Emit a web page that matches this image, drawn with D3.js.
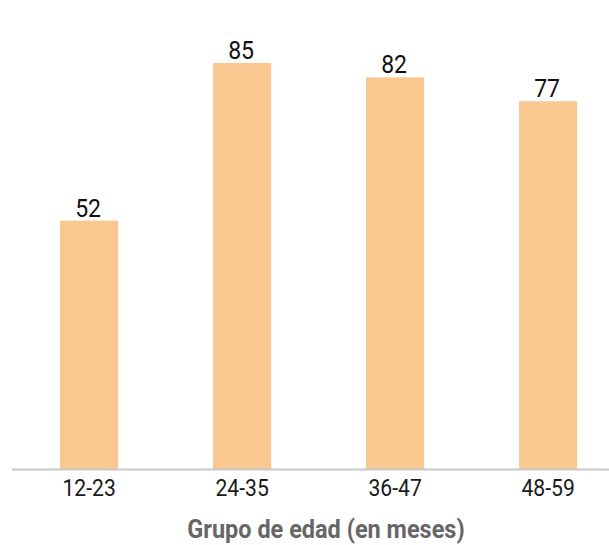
<!DOCTYPE html>
<html><head><meta charset="utf-8">
<script src="https://cdn.jsdelivr.net/npm/d3@7"></script>
<style>body{margin:0;background:#fff}svg{display:block}</style>
</head><body>
<script>
const categories = ["12-23", "24-35", "36-47", "48-59"];
const values = [52, 85, 82, 77];
const axisTitle = "Grupo de edad (en meses)";

const W = 609, H = 545;
const svg = d3.select("body").append("svg").attr("width", W).attr("height", H);
const font = "Roboto, 'Liberation Sans', sans-serif";

const x = d3.scaleBand().domain(categories).range([12.6, 624.6]).paddingInner(0.62).paddingOuter(0.31);
const y = d3.scaleLinear().domain([0, 85]).range([469, 63]);

svg.selectAll("rect.bar").data(values).join("rect")
  .attr("class", "bar")
  .attr("x", (d, i) => x(categories[i]))
  .attr("width", x.bandwidth())
  .attr("y", d => y(d))
  .attr("height", d => y(0) - y(d))
  .attr("fill", "#F9C891");

// axis
const ax = svg.append("g").attr("transform", `translate(0,${y(0)})`)
  .call(d3.axisBottom(x).tickSize(0).tickPadding(0));
ax.select(".domain").remove();
ax.selectAll(".tick text").remove();
svg.append("line").attr("x1", 12).attr("x2", W).attr("y1", y(0) + 0.5).attr("y2", y(0) + 0.5)
  .attr("stroke", "#c8c8c8").attr("stroke-width", 2);

ax.selectAll(".tick").append("g")
  .attr("transform", `translate(0,27) scale(0.88,1)`)
  .append("text")
  .attr("text-anchor", "middle")
  .attr("font-family", font).attr("font-size", 24).attr("fill", "#1a1a1a")
  .text(d => d);

// value labels
svg.selectAll("g.lbl").data(values).join("g")
  .attr("class", "lbl")
  .attr("transform", (d, i) => `translate(${x(categories[i]) + x.bandwidth() / 2 - 1},${y(d) - 4}) scale(0.87,1)`)
  .append("text")
  .attr("text-anchor", "middle")
  .attr("font-family", font).attr("font-size", 26.5).attr("fill", "#111")
  .text(d => d);

svg.append("g").attr("transform", `translate(326,538) scale(0.94,1)`)
  .append("text").attr("text-anchor", "middle")
  .attr("font-family", font).attr("font-size", 25).attr("font-weight", "bold").attr("fill", "#666")
  .text(axisTitle);
</script>
</body></html>
